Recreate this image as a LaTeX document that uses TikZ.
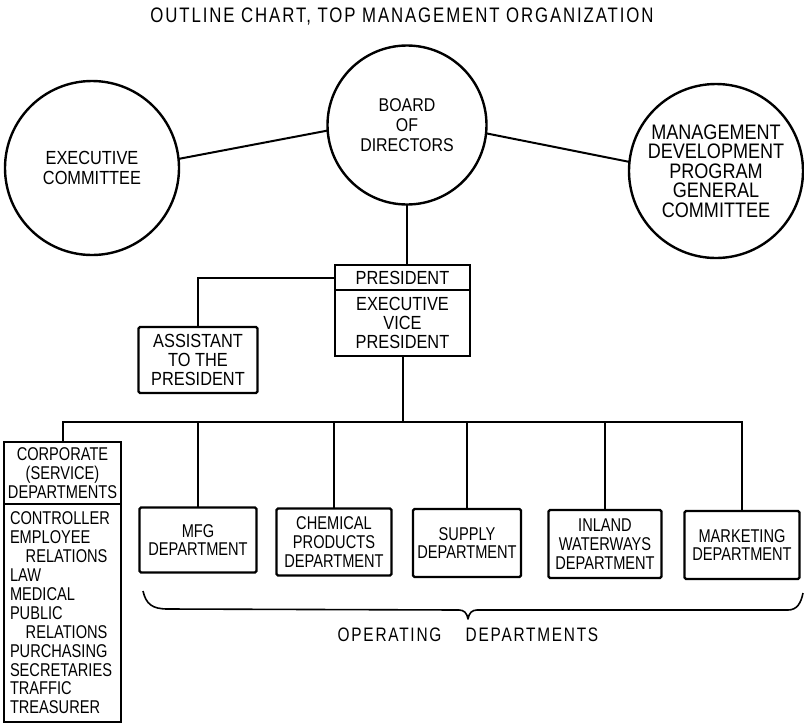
\documentclass[tikz,border=0pt]{standalone}
\usepackage{fontspec}
\setmainfont{Liberation Sans}[FakeStretch=0.79]
\newfontfamily\upface{Liberation Sans}[FakeStretch=0.86]
\newfontfamily\titleface{Liberation Sans}[FakeStretch=0.8,LetterSpace=9]
\newfontfamily\spacedface{Liberation Sans}[FakeStretch=0.79,LetterSpace=9]
\begin{document}
\begin{tikzpicture}[x=1pt,y=-1pt,
  lbl/.style={font=\fontsize{18.5}{18.9}\selectfont, align=center, inner sep=0pt},
  uplbl/.style={font=\upface\fontsize{19}{19.3}\selectfont},
  ring/.style={draw, circle, line width=2.4pt, outer sep=0pt, lbl},
  box/.style={draw, rectangle, line width=2.4pt, outer sep=0pt, rounded corners=1.5pt, lbl},
  link/.style={line width=2pt}]
\useasboundingbox (0,0) rectangle (804,724);

% title
\node[lbl, font=\titleface\fontsize{21}{22}\selectfont] (title) at (402,17)
  {OUTLINE CHART, TOP MANAGEMENT ORGANIZATION};

% committees
\node[ring, minimum size=159, font=\upface\fontsize{18.5}{20}\selectfont] (board) at (407,125)
  {BOARD\\OF\\DIRECTORS};
\node[ring, minimum size=174, uplbl] (exec) at (92,168) {EXECUTIVE\\COMMITTEE};
\node[ring, minimum size=174, font=\upface\fontsize{21}{19.5}\selectfont] (mdp) at (716,171)
  {MANAGEMENT\\DEVELOPMENT\\PROGRAM\\GENERAL\\COMMITTEE};
\draw[link] (board.184) -- (exec.6);
\draw[link] (board.-6) -- (mdp.174);

% president
\node[box, uplbl, sharp corners, minimum width=135, minimum height=25] (pres) at (402.5,277.5)
  {PRESIDENT};
\node[box, uplbl, sharp corners, minimum width=135, minimum height=66, anchor=north] (evp)
  at (pres.south) {EXECUTIVE\\VICE\\PRESIDENT};
\node[box, uplbl, minimum width=119, minimum height=66] (asst) at (198,360)
  {ASSISTANT\\TO THE\\PRESIDENT};
\draw[link] (board.south) -- (board.south |- pres.north);
\draw[link] (pres.west) -| (asst.north);

% departments
\node[box, sharp corners, minimum width=117, minimum height=62] (corph) at (62.5,473)
  {CORPORATE\\(SERVICE)\\DEPARTMENTS};
\node[box, sharp corners, minimum width=117, minimum height=218, anchor=north, align=left,
  text width=105] (corpl) at (corph.south)
  {CONTROLLER\\EMPLOYEE\\\hspace*{0.85em}RELATIONS\\LAW\\MEDICAL\\PUBLIC\\
   \hspace*{0.85em}RELATIONS\\PURCHASING\\SECRETARIES\\TRAFFIC\\TREASURER};
\node[box, minimum width=117, minimum height=65] (mfg) at (198,540) {MFG\\DEPARTMENT};
\node[box, minimum width=115, minimum height=67] (chem) at (334,542)
  {CHEMICAL\\PRODUCTS\\DEPARTMENT};
\node[box, minimum width=108, minimum height=68] (supply) at (467,543)
  {SUPPLY\\DEPARTMENT};
\node[box, minimum width=113, minimum height=68] (inland) at (605,544)
  {INLAND\\WATERWAYS\\DEPARTMENT};
\node[box, minimum width=115, minimum height=68] (mkt) at (742,545)
  {MARKETING\\DEPARTMENT};

\coordinate (bus) at (403,422);
\draw[link] (evp.south) -- (evp.south |- bus);
\draw[link] (corph.north) |- (bus -| mkt.north) -- (mkt.north);
\foreach \d in {mfg,chem,supply,inland}
  \draw[link] (\d.north) -- (\d.north |- bus);

% operating departments brace
\draw[line width=1.6pt, line join=round]
  (143,591) .. controls (146,604) and (152,609) .. (168,609)
  -- (459,610) .. controls (464,610) and (467,613) .. (468,619)
  .. controls (469,613) and (472,610) .. (477,610)
  -- (788,610) .. controls (797,610) and (801,603) .. (803,593);
\node[lbl, font=\spacedface\fontsize{19.5}{20}\selectfont] (opdept) at (468,635)
  {OPERATING\hspace{1.25em}DEPARTMENTS};
\end{tikzpicture}
\end{document}
